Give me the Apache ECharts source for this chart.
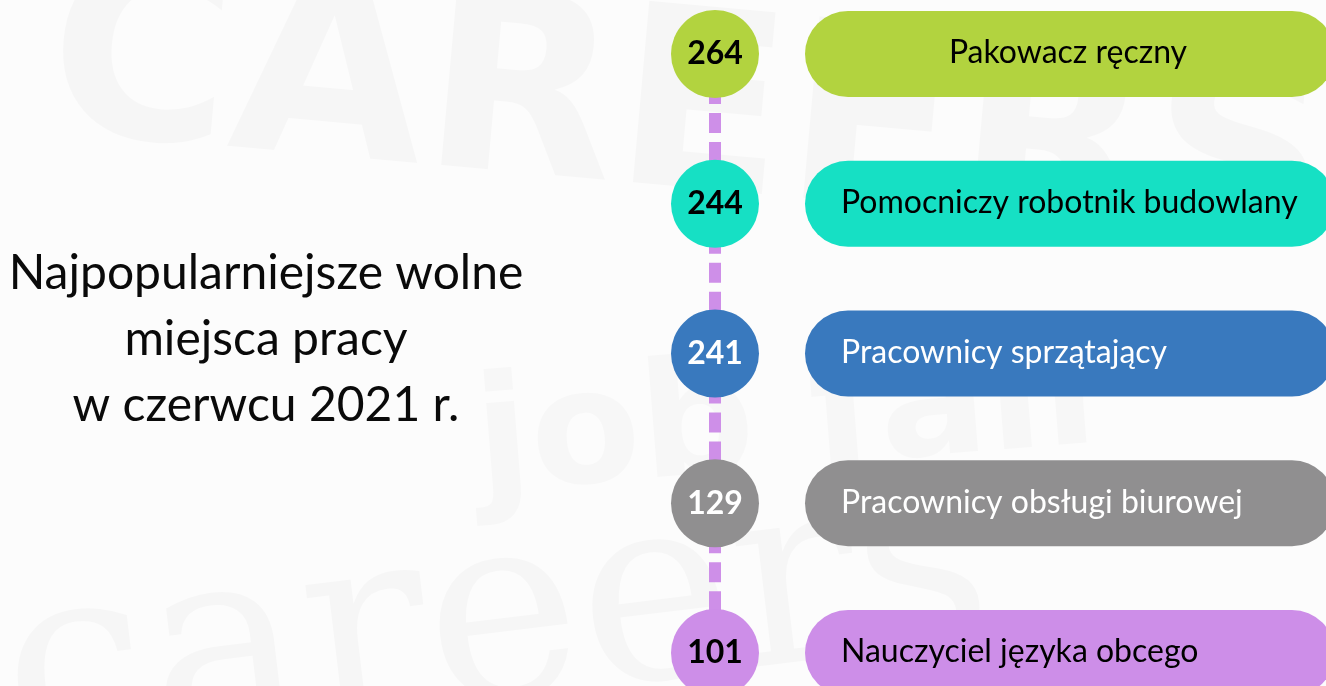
<!DOCTYPE html>
<html>
<head>
<meta charset="utf-8">
<script src="https://cdn.jsdelivr.net/npm/echarts@6/dist/echarts.min.js"></script>
<style>
  html, body { margin: 0; padding: 0; background: #fcfcfc; }
  #chart { width: 1326px; height: 686px; }
</style>
</head>
<body>
<div id="chart"></div>
<script>
// dane
const titleLines = ['Najpopularniejsze wolne', 'miejsca pracy', 'w czerwcu 2021 r.'];
const jobs = [
    'Pakowacz ręczny',
    'Pomocniczy robotnik budowlany',
    'Pracownicy sprzątający',
    'Pracownicy obsługi biurowej',
    'Nauczyciel języka obcego'
];
const counts = [264, 244, 241, 129, 101];

// kolory
const fillColors = ['#B2D33F', '#16E0C4', '#3979BE', '#908F90', '#CD8EE8'];
const textColors = ['#000', '#000', '#fff', '#fff', '#000'];
const lineColor = '#CE8FE8';

const myChart = echarts.init(document.getElementById('chart'));

const CIRCLE_X = 715;
const PILL_X = 805;
const PILL_W = 530;

const option = {
    backgroundColor: '#fcfcfc',
    animation: false,
    grid: { left: 0, right: 0, top: 54, bottom: 33 },
    xAxis: { type: 'value', min: 0, max: 1326, show: false },
    yAxis: { type: 'category', data: jobs, inverse: true, boundaryGap: false, show: false },
    graphic: [
        // blade tło (gazeta)
        {
            type: 'text', x: 60, y: -60, rotation: -0.09, silent: true, z: -10,
            style: { text: 'CAREERS', font: '900 250px "DejaVu Sans"', fill: 'rgba(0,0,0,0.025)' }
        },
        {
            type: 'text', x: 470, y: 370, rotation: 0.08, silent: true, z: -10,
            style: { text: 'job fair', font: 'bold 160px "DejaVu Sans"', fill: 'rgba(0,0,0,0.02)' }
        },
        {
            type: 'text', x: -10, y: 560, rotation: 0.12, silent: true, z: -10,
            style: { text: 'careers', font: '260px "DejaVu Serif"', fill: 'rgba(0,0,0,0.022)' }
        },
        {
            type: 'text', x: 266, y: 340, z: 10,
            style: {
                text: titleLines.join('\n'),
                textAlign: 'center',
                textVerticalAlign: 'middle',
                font: '48px Lato',
                lineHeight: 66,
                fill: '#0a0a0a'
            }
        }
    ],
    series: [{
        type: 'custom',
        data: jobs.map((name, i) => [counts[i], i]),
        encode: { x: 0, y: 1 },
        renderItem: function (params, api) {
            const i = params.dataIndex;
            const cy = api.coord([0, api.value(1)])[1];
            const step = jobs.length > 1 ? (api.coord([0, 1])[1] - api.coord([0, 0])[1]) : 0;
            const children = [];
            if (i < jobs.length - 1) {
                children.push({
                    type: 'line',
                    shape: { x1: CIRCLE_X, y1: cy + 30, x2: CIRCLE_X, y2: cy + step },
                    style: { stroke: lineColor, lineWidth: 12, lineDash: [20, 9] }
                });
            }
            children.push({
                type: 'rect',
                shape: { x: PILL_X, y: cy - 43, width: PILL_W, height: 86, r: 43 },
                style: { fill: fillColors[i] }
            });
            children.push({
                type: 'text',
                style: {
                    text: jobs[i],
                    x: i === 0 ? PILL_X + PILL_W / 2 - 2 : PILL_X + 36,
                    y: cy - 1,
                    textAlign: i === 0 ? 'center' : 'left',
                    textVerticalAlign: 'middle',
                    font: '32px Lato',
                    fill: textColors[i]
                }
            });
            children.push({
                type: 'circle',
                shape: { cx: CIRCLE_X, cy: cy, r: 44 },
                style: { fill: fillColors[i] }
            });
            children.push({
                type: 'text',
                style: {
                    text: String(api.value(0)),
                    x: CIRCLE_X,
                    y: cy,
                    textAlign: 'center',
                    textVerticalAlign: 'middle',
                    font: 'bold 32px Lato',
                    fill: textColors[i]
                }
            });
            return { type: 'group', children: children };
        }
    }]
};

myChart.setOption(option);
window.addEventListener('resize', () => myChart.resize());
</script>
</body>
</html>
